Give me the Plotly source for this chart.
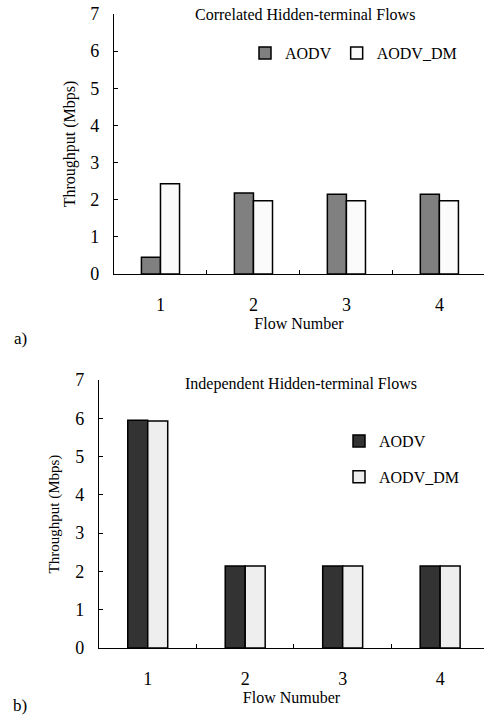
import plotly.graph_objects as go

flows = ["1", "2", "3", "4"]
series_names = ["AODV", "AODV_DM"]

# a) Correlated Hidden-terminal Flows
corr_aodv = [0.45, 2.18, 2.15, 2.15]
corr_aodv_dm = [2.43, 1.97, 1.97, 1.97]

# b) Independent Hidden-terminal Flows
indep_aodv = [5.95, 2.14, 2.14, 2.14]
indep_aodv_dm = [5.93, 2.14, 2.14, 2.14]

y_ticks = [0, 1, 2, 3, 4, 5, 6, 7]

W, H = 484, 716
FONT = "Liberation Serif"

fig = go.Figure()

line = dict(color="black", width=1.5)
fig.add_trace(go.Bar(x=flows, y=corr_aodv, name=series_names[0], marker=dict(color="#808080", line=line),
                     xaxis="x", yaxis="y", legend="legend", legendgroup="a1"))
fig.add_trace(go.Bar(x=flows, y=corr_aodv_dm, name=series_names[1], marker=dict(color="#fbfbfb", line=line),
                     xaxis="x", yaxis="y", legend="legend", legendgroup="a2"))
fig.add_trace(go.Bar(x=flows, y=indep_aodv, name=series_names[0], marker=dict(color="#333333", line=line),
                     xaxis="x2", yaxis="y2", legend="legend2", legendgroup="b1"))
fig.add_trace(go.Bar(x=flows, y=indep_aodv_dm, name=series_names[1], marker=dict(color="#eeeeee", line=line),
                     xaxis="x2", yaxis="y2", legend="legend2", legendgroup="b2"))


def px(x):
    return x / W


def py(y):
    return (H - y) / H


common_x = dict(type="category", showline=True, linecolor="black", linewidth=1.3,
                ticks="inside", ticklen=4, tickcolor="black", tickwidth=1.3, tickson="boundaries",
                showgrid=False, zeroline=False, tickfont=dict(family=FONT, size=18, color="black"),
                ticklabelstandoff=14, automargin=False)
common_y = dict(range=[0, 7], tickvals=y_ticks, showline=True, linecolor="black", linewidth=1.3,
                ticks="inside", ticklen=4, tickcolor="black", tickwidth=1.3,
                showgrid=False, zeroline=False, tickfont=dict(family=FONT, size=18, color="black"),
                ticklabelstandoff=10, automargin=False)

fig.update_layout(
    width=W, height=H,
    margin=dict(l=0, r=0, t=0, b=0, autoexpand=False),
    paper_bgcolor="white", plot_bgcolor="white",
    barmode="group", bargap=0.59, bargroupgap=0,
    font=dict(family=FONT, color="black"),
    xaxis=dict(common_x, domain=[px(114), 1], range=[-0.5, 3.48], anchor="y",
               title=dict(text="Flow Number", font=dict(family=FONT, size=16), standoff=2)),
    yaxis=dict(common_y, domain=[py(274), py(14)], anchor="x",
               title=dict(text="Throughput (Mbps)", font=dict(family=FONT, size=16), standoff=10)),
    xaxis2=dict(common_x, domain=[px(99), 1], range=[-0.5, 3.45], anchor="y2",
                title=dict(text="Flow Numuber", font=dict(family=FONT, size=16), standoff=2)),
    yaxis2=dict(common_y, domain=[py(648), py(380)], anchor="x2",
                title=dict(text="Throughput (Mbps)", font=dict(family=FONT, size=15), standoff=12)),
    legend=dict(orientation="h", x=px(245), xanchor="left", y=py(53), yanchor="middle",
                font=dict(family=FONT, size=16), bgcolor="rgba(0,0,0,0)", itemwidth=30),
    legend2=dict(orientation="v", x=px(339), xanchor="left", y=py(424), yanchor="top",
                 font=dict(family=FONT, size=16), bgcolor="rgba(0,0,0,0)", itemwidth=30,
                 tracegroupgap=12),
    annotations=[
        dict(text="Correlated Hidden-terminal Flows", x=px(305), y=py(15), xref="paper", yref="paper",
             showarrow=False, font=dict(family=FONT, size=16), xanchor="center", yanchor="middle"),
        dict(text="Independent Hidden-terminal Flows", x=px(301), y=py(384), xref="paper", yref="paper",
             showarrow=False, font=dict(family=FONT, size=16), xanchor="center", yanchor="middle"),
        dict(text="a)", x=px(12), y=py(338), xref="paper", yref="paper",
             showarrow=False, font=dict(family=FONT, size=17), xanchor="left", yanchor="middle"),
        dict(text="b)", x=px(11), y=py(705), xref="paper", yref="paper",
             showarrow=False, font=dict(family=FONT, size=17), xanchor="left", yanchor="middle"),
    ],
)

fig.write_html("out.html")
